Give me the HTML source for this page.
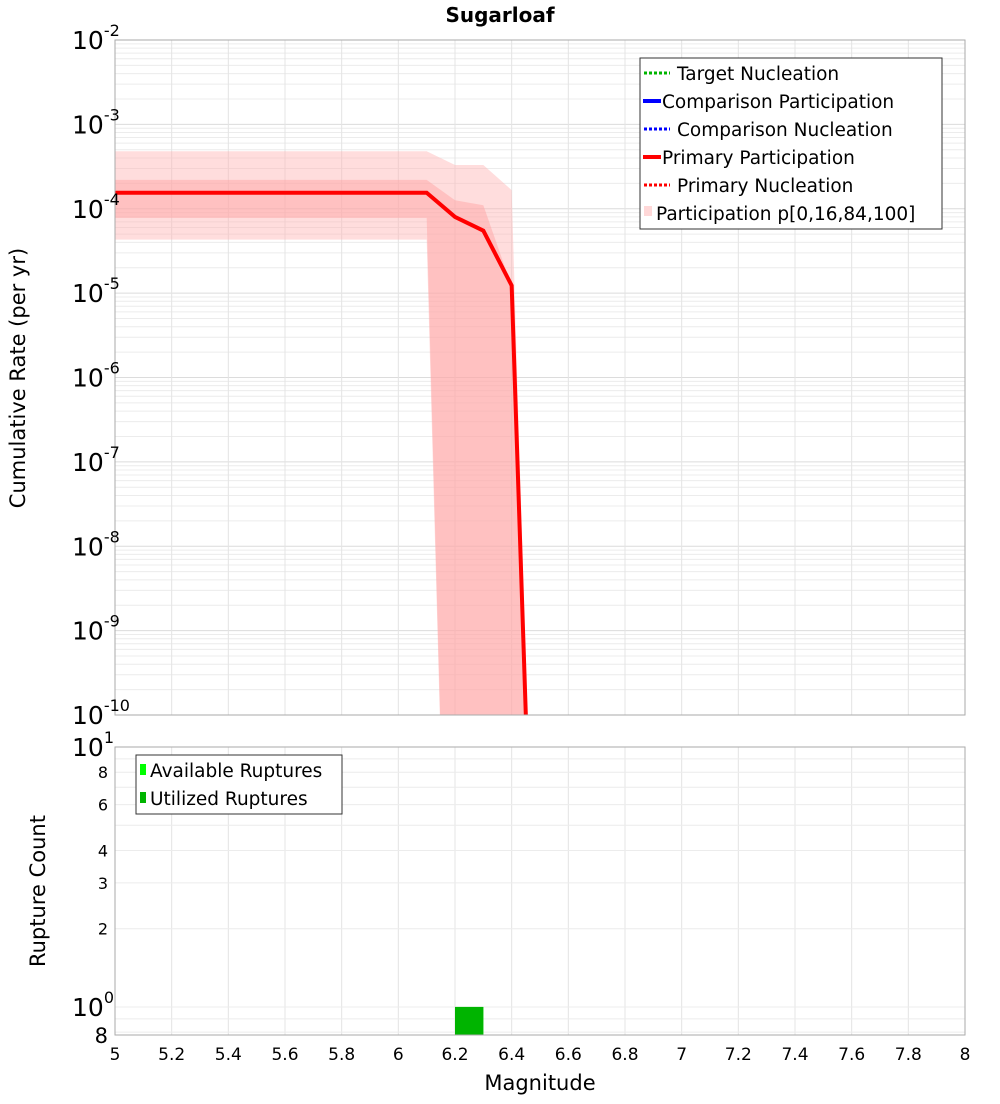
<!DOCTYPE html>
<html><head><meta charset="utf-8"><style>
body{margin:0;background:#fff;font-family:"DejaVu Sans","Liberation Sans",sans-serif}
svg text{font-family:"DejaVu Sans","Liberation Sans",sans-serif}
</style></head><body>
<svg id="c" width="1000" height="1100" xmlns="http://www.w3.org/2000/svg">
<text x="500" y="22" text-anchor="middle" font-size="20" font-weight="bold">Sugarloaf</text>
<g id="topPlot"></g>
<g id="botPlot"></g>
<text transform="translate(25,378) rotate(-90)" text-anchor="middle" font-size="21">Cumulative Rate (per yr)</text>
<text transform="translate(45,891) rotate(-90)" text-anchor="middle" font-size="21">Rupture Count</text>
<text x="540" y="1090" text-anchor="middle" font-size="21">Magnitude</text>
</svg>
<script>
const mags=[5,6.1,6.2,6.3,6.4,6.5];
const primaryPart=[1.55e-4,1.55e-4,8e-5,5.5e-5,1.23e-5,8e-16];
const outerUpper=[4.8e-4,4.8e-4,3.3e-4,3.3e-4,1.66e-4,8e-16];
const outerLower=[4.3e-5,4.3e-5,3e-17,1e-20,1e-20,1e-20];
const innerUpper=[2.2e-4,2.2e-4,1.26e-4,1.1e-4,1.2e-5,8e-16];
const innerLower=[7.8e-5,7.8e-5,3e-17,1e-20,1e-20,1e-20];
const binStarts=[6.2];
const binWidth=0.1;
const utilized=[1];
const available=[1];
const xTicks=[5,5.2,5.4,5.6,5.8,6,6.2,6.4,6.6,6.8,7,7.2,7.4,7.6,7.8,8];
const xTickLabels=["5","5.2","5.4","5.6","5.8","6","6.2","6.4","6.6","6.8","7","7.2","7.4","7.6","7.8","8"];
const topDecades=[-10,-9,-8,-7,-6,-5,-4,-3,-2];
const botTicks=[8,6,4,3,2];

const NS="http://www.w3.org/2000/svg";
const L=115,R=965,T1=40,B1=715,T2=747,B2=1035;
const X=m=>L+(m-5)/3*(R-L);
const Y1=v=>T1+(-2-Math.log10(v))*(B1-T1)/8;
const bLo=Math.log10(0.78);
const Y2=v=>B2-(Math.log10(v)-bLo)/(1-bLo)*(B2-T2);
function mk(p,tag,a,txt){const e=document.createElementNS(NS,tag);for(const k in a)e.setAttribute(k,a[k]);if(txt!==undefined)e.textContent=txt;p.appendChild(e);return e;}
const gTop=document.getElementById('topPlot'),gBot=document.getElementById('botPlot'),svg=document.getElementById('c');
const defs=mk(svg,'defs',{});
const cp=mk(defs,'clipPath',{id:'cp1'});mk(cp,'rect',{x:L,y:T1,width:R-L,height:B1-T1});
for(let d=-10;d<-2;d++){for(let k=1;k<10;k++){const y=Y1(k*Math.pow(10,d));const g=mk(gTop,'line',{x1:L,x2:R,y1:y,y2:y,stroke:k==1?'#dcdcdc':'#ececec','stroke-width':1});}}
xTicks.forEach(m=>{const g=mk(gTop,'line',{x1:X(m),x2:X(m),y1:T1,y2:B1,stroke:'#e4e4e4'});
 const g2=mk(gBot,'line',{x1:X(m),x2:X(m),y1:T2,y2:B2,stroke:'#e4e4e4'});});
function band(up,lo,fill,name){let pts=mags.map((m,i)=>X(m)+','+Y1(up[i]));for(let i=mags.length-1;i>=0;i--)pts.push(X(mags[i])+','+Y1(lo[i]));const p=mk(gTop,'polygon',{points:pts.join(' '),fill:fill,'clip-path':'url(#cp1)'});}
band(outerUpper,outerLower,'rgba(255,180,180,0.45)','band-p0-p100');
band(innerUpper,innerLower,'rgba(255,160,160,0.45)','band-p16-p84');
const lp=mags.map((m,i)=>X(m)+','+Y1(primaryPart[i])).join(' ');
const cl=mk(gTop,'polyline',{points:lp,fill:'none',stroke:'#0000ff','stroke-width':3,'stroke-dasharray':'3,2','clip-path':'url(#cp1)'});
const pl=mk(gTop,'polyline',{points:lp,fill:'none',stroke:'#ff0000','stroke-width':4,'clip-path':'url(#cp1)'});
mk(gTop,'rect',{x:L,y:T1,width:R-L,height:B1-T1,fill:'none',stroke:'#aaa'});
topDecades.forEach(d=>{const y=Y1(Math.pow(10,d));const t=mk(gTop,'text',{x:72,y:y+9,'font-size':25},'10');mk(t,'tspan',{dy:-13,'font-size':16},String(d));});
const lg=mk(gTop,'g',{});
mk(lg,'rect',{x:640,y:58,width:302,height:171,fill:'#fff',stroke:'#333'});
const items=[['Target Nucleation','#00b400',true,677],['Comparison Participation','#0000ff',false,662],['Comparison Nucleation','#0000ff',true,677],['Primary Participation','#ff0000',false,662],['Primary Nucleation','#ff0000',true,677]];
items.forEach((it,i)=>{const y=73+i*28;const g=mk(lg,'g',{});
 if(it[2])mk(g,'line',{x1:644,x2:670,y1:y,y2:y,stroke:it[1],'stroke-width':3,'stroke-dasharray':'3,2'});else mk(g,'line',{x1:643,x2:661,y1:y,y2:y,stroke:it[1],'stroke-width':4});
 mk(g,'text',{x:it[3],y:y+7,'font-size':18.5},it[0]);});
const g6=mk(lg,'g',{});
mk(g6,'rect',{x:644,y:206,width:8,height:10,fill:'#ffd8d8'});mk(g6,'text',{x:656,y:220,'font-size':18.5},'Participation p[0,16,84,100]');
[0.8,0.9,1,2,3,4,5,6,7,8,9,10].forEach(v=>{const y=Y2(v);const g=mk(gBot,'line',{x1:L,x2:R,y1:y,y2:y,stroke:'#ececec'});});
binStarts.forEach((m,i)=>{const b=mk(gBot,'rect',{x:X(m),y:Y2(available[i]),width:X(m+binWidth)-X(m),height:B2-Y2(available[i]),fill:'#00ff00'});
 const u=mk(gBot,'rect',{x:X(m),y:Y2(utilized[i]),width:X(m+binWidth)-X(m),height:B2-Y2(utilized[i]),fill:'#00b400'});});
mk(gBot,'rect',{x:L,y:T2,width:R-L,height:B2-T2,fill:'none',stroke:'#aaa'});
botTicks.forEach(v=>{const t=mk(gBot,'text',{x:108,y:Y2(v)+6,'text-anchor':'end','font-size':16},String(v));});
[[10,'1'],[1,'0']].forEach(a=>{const t=mk(gBot,'text',{x:72,y:Y2(a[0])+9,'font-size':25},'10');mk(t,'tspan',{dy:-13,'font-size':16},a[1]);});
const t8=mk(gBot,'text',{x:108,y:1043,'text-anchor':'end','font-size':21},'8');
xTicks.forEach((m,i)=>{const t=mk(gBot,'text',{x:X(m),y:1060,'text-anchor':'middle','font-size':17},xTickLabels[i]);});
const bl=mk(gBot,'g',{});
mk(bl,'rect',{x:136,y:755,width:206,height:59,fill:'#fff',stroke:'#333'});
mk(bl,'rect',{x:140,y:764,width:6,height:11,fill:'#00ff00'});mk(bl,'text',{x:150,y:777,'font-size':18.5},'Available Ruptures');
mk(bl,'rect',{x:140,y:792,width:6,height:11,fill:'#00b400'});mk(bl,'text',{x:150,y:805,'font-size':18.5},'Utilized Ruptures');
</script>
</body></html>
